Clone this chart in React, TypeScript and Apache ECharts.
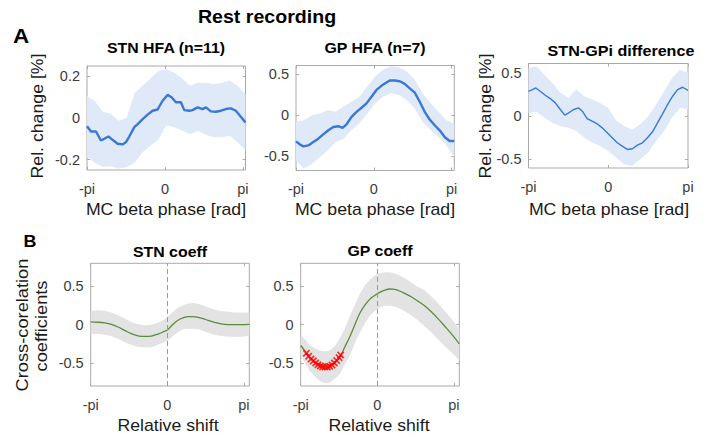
import { useEffect, useRef } from "react";
import * as echarts from "echarts";

const FONT = '"Liberation Sans", Arial, Helvetica, sans-serif';
const STRETCH = 1.12;

// phase axis ticks (in units of pi)
const phaseTicks = [-1, 0, 1];
const phaseTickLabels = ["-pi", "0", "pi"];

// ---------- A: STN HFA (n=11) ----------
const stnPhase = [-1, -0.949, -0.885, -0.821, -0.778, -0.726, -0.671, -0.607, -0.543, -0.5, -0.457, -0.393, -0.35, -0.286, -0.222, -0.158, -0.094, -0.03, 0.034, 0.085, 0.141, 0.205, 0.248, 0.312, 0.355, 0.419, 0.483, 0.526, 0.59, 0.654, 0.718, 0.782, 0.846, 0.91, 0.974, 1.034];
const stnMean = [-0.04, -0.065, -0.065, -0.108, -0.1, -0.089, -0.105, -0.124, -0.127, -0.116, -0.089, -0.044, -0.029, -0.005, 0.016, 0.035, 0.041, 0.083, 0.111, 0.1, 0.076, 0.076, 0.038, 0.035, 0.038, 0.051, 0.043, 0.051, 0.032, 0.03, 0.035, 0.043, 0.046, 0.035, 0.006, -0.021];
const hfaBandPhase = [-1, -0.898, -0.797, -0.695, -0.593, -0.491, -0.39, -0.288, -0.186, -0.085, 0.017, 0.119, 0.221, 0.322, 0.424, 0.526, 0.627, 0.729, 0.831, 0.932, 1.034];
const stnUpper = [0.106, 0.08, 0.03, 0.02, -0.013, 0.0, 0.12, 0.155, 0.19, 0.225, 0.235, 0.217, 0.19, 0.154, 0.17, 0.17, 0.162, 0.17, 0.18, 0.154, 0.114];
const stnLower = [-0.187, -0.215, -0.235, -0.232, -0.243, -0.237, -0.215, -0.165, -0.134, -0.105, -0.035, -0.044, -0.06, -0.078, -0.062, -0.08, -0.092, -0.092, -0.085, -0.116, -0.156];
const stnYTicks = [-0.2, 0, 0.2];

// ---------- A: GP HFA (n=7) ----------
const gpPhase = [-1, -0.949, -0.906, -0.842, -0.778, -0.714, -0.65, -0.585, -0.521, -0.457, -0.402, -0.35, -0.286, -0.222, -0.158, -0.094, -0.03, 0.034, 0.098, 0.162, 0.205, 0.269, 0.333, 0.397, 0.462, 0.526, 0.59, 0.654, 0.718, 0.782, 0.846, 0.91, 0.974, 1.034];
const gpMean = [-0.322, -0.36, -0.384, -0.372, -0.33, -0.289, -0.236, -0.186, -0.145, -0.136, -0.157, -0.112, -0.021, 0.041, 0.091, 0.145, 0.227, 0.31, 0.36, 0.4, 0.426, 0.426, 0.417, 0.384, 0.33, 0.277, 0.165, 0.041, -0.054, -0.124, -0.186, -0.269, -0.318, -0.318];
const gpUpper = [-0.083, -0.062, 0, 0.02, 0.062, 0.041, 0.103, 0.165, 0.227, 0.351, 0.475, 0.558, 0.6, 0.59, 0.537, 0.434, 0.269, 0.145, 0.041, -0.062, -0.103];
const gpLower = [-0.558, -0.66, -0.6, -0.517, -0.434, -0.33, -0.289, -0.186, -0.103, 0.02, 0.145, 0.227, 0.269, 0.248, 0.186, 0.083, -0.083, -0.186, -0.269, -0.372, -0.517];
const halfYTicks = [-0.5, 0, 0.5];

// ---------- A: STN-GPi difference ----------
const diffPhase = [-1, -0.958, -0.908, -0.853, -0.79, -0.727, -0.664, -0.601, -0.546, -0.496, -0.433, -0.37, -0.319, -0.265, -0.202, -0.139, -0.076, -0.013, 0.05, 0.113, 0.176, 0.239, 0.303, 0.366, 0.429, 0.492, 0.555, 0.618, 0.681, 0.744, 0.807, 0.87, 0.933, 1.0];
const diffMean = [0.288, 0.304, 0.327, 0.288, 0.242, 0.204, 0.154, 0.077, 0.012, 0.038, 0.077, 0.096, 0.05, -0.027, -0.058, -0.088, -0.135, -0.192, -0.25, -0.308, -0.346, -0.385, -0.377, -0.335, -0.308, -0.25, -0.181, -0.077, 0.027, 0.135, 0.231, 0.308, 0.335, 0.3];
const diffBandPhase = [-1, -0.9, -0.8, -0.7, -0.6, -0.5, -0.4, -0.3, -0.2, -0.1, 0, 0.1, 0.2, 0.3, 0.4, 0.5, 0.6, 0.7, 0.8, 0.9, 1];
const diffUpper = [0.558, 0.577, 0.48, 0.385, 0.27, 0.212, 0.308, 0.231, 0.192, 0.154, 0.096, -0.05, -0.115, -0.154, -0.096, 0, 0.135, 0.288, 0.442, 0.538, 0.5];
const diffLower = [0.038, 0.05, -0.019, -0.077, -0.115, -0.135, -0.173, -0.25, -0.308, -0.346, -0.404, -0.481, -0.558, -0.577, -0.5, -0.423, -0.288, -0.173, -0.019, 0.096, 0.077];

// ---------- B: STN coeff ----------
const stnShift = [-1, -0.904, -0.817, -0.73, -0.643, -0.557, -0.47, -0.383, -0.296, -0.209, -0.122, -0.057, 0, 0.074, 0.139, 0.204, 0.27, 0.335, 0.4, 0.465, 0.53, 0.617, 0.704, 0.791, 0.878, 0.965, 1.07];
const stnCoeff = [0.035, 0.031, 0.022, 0.004, -0.031, -0.075, -0.118, -0.145, -0.154, -0.149, -0.123, -0.096, -0.07, 0.004, 0.057, 0.088, 0.105, 0.105, 0.096, 0.079, 0.057, 0.031, 0.009, 0, 0, 0, 0.004];
const stnCoeffUpper = [0.18, 0.189, 0.18, 0.158, 0.123, 0.079, 0.035, 0.004, -0.009, 0, 0.026, 0.057, 0.095, 0.167, 0.219, 0.254, 0.276, 0.281, 0.272, 0.254, 0.228, 0.197, 0.175, 0.167, 0.158, 0.158, 0.158];
const stnCoeffLower = [-0.118, -0.123, -0.132, -0.149, -0.184, -0.228, -0.263, -0.289, -0.298, -0.294, -0.263, -0.237, -0.212, -0.149, -0.096, -0.061, -0.053, -0.053, -0.061, -0.079, -0.105, -0.132, -0.149, -0.158, -0.158, -0.158, -0.149];

// ---------- B: GP coeff ----------
const gpShift = [-1, -0.948, -0.883, -0.817, -0.752, -0.687, -0.622, -0.557, -0.491, -0.426, -0.361, -0.296, -0.23, -0.165, -0.1, -0.035, 0.03, 0.096, 0.161, 0.226, 0.291, 0.357, 0.443, 0.53, 0.617, 0.704, 0.791, 0.878, 0.965, 1.07];
const gpCoeff = [-0.272, -0.338, -0.425, -0.491, -0.535, -0.553, -0.544, -0.5, -0.425, -0.294, -0.162, -0.009, 0.145, 0.25, 0.33, 0.38, 0.42, 0.45, 0.465, 0.46, 0.439, 0.408, 0.364, 0.307, 0.246, 0.167, 0.079, -0.018, -0.118, -0.25];
const gpCoeffUpper = [-0.132, -0.184, -0.263, -0.307, -0.338, -0.351, -0.338, -0.281, -0.184, -0.053, 0.101, 0.254, 0.395, 0.509, 0.583, 0.64, 0.671, 0.684, 0.684, 0.671, 0.64, 0.605, 0.553, 0.491, 0.45, 0.37, 0.28, 0.18, 0.08, -0.06];
const gpCoeffLower = [-0.404, -0.491, -0.6, -0.675, -0.732, -0.763, -0.754, -0.71, -0.645, -0.526, -0.404, -0.25, -0.105, 0.013, 0.114, 0.175, 0.219, 0.246, 0.246, 0.232, 0.21, 0.175, 0.123, 0.057, -0.02, -0.1, -0.19, -0.28, -0.36, -0.46];
const gpSigShift = [-0.926, -0.896, -0.865, -0.835, -0.804, -0.774, -0.743, -0.713, -0.683, -0.652, -0.622, -0.591, -0.561, -0.53, -0.5, -0.478];
const gpSigCoeff = [-0.373, -0.412, -0.447, -0.474, -0.5, -0.522, -0.539, -0.548, -0.553, -0.553, -0.544, -0.526, -0.5, -0.469, -0.43, -0.395];

const pairs = (xs: number[], ys: number[]) => xs.map((x, i) => [x, ys[i]]);

type Panel = {
  grid: { left: number; top: number; width: number; height: number };
  xMax: number;
  yMin: number;
  yMax: number;
  yTicks: number[];
  phase: number[];
  mean: number[];
  bandPhase: number[];
  upper: number[];
  lower: number[];
  lineColor: string;
  lineWidth: number;
  bandColor: string;
  smooth: number | boolean;
  zeroLine?: boolean;
};

const BLUE = "#3a78d6";
const BLUE_BAND = "#dfe9f8";
const GREEN = "#5d8a3c";
const GRAY_BAND = "#e3e3e3";

const panels: Panel[] = [
  { grid: { left: 87, top: 66, width: 158.5, height: 104 }, xMax: 1.034, yMin: -0.25, yMax: 0.25, yTicks: stnYTicks,
    phase: stnPhase, mean: stnMean, bandPhase: hfaBandPhase, upper: stnUpper, lower: stnLower,
    lineColor: BLUE, lineWidth: 2.4, bandColor: BLUE_BAND, smooth: false },
  { grid: { left: 296, top: 65.5, width: 158.3, height: 105 }, xMax: 1.034, yMin: -0.68, yMax: 0.61, yTicks: halfYTicks,
    phase: gpPhase, mean: gpMean, bandPhase: hfaBandPhase, upper: gpUpper, lower: gpLower,
    lineColor: BLUE, lineWidth: 2.4, bandColor: BLUE_BAND, smooth: false },
  { grid: { left: 528.5, top: 63.5, width: 159.5, height: 104.5 }, xMax: 1, yMin: -0.6, yMax: 0.61, yTicks: halfYTicks,
    phase: diffPhase, mean: diffMean, bandPhase: diffBandPhase, upper: diffUpper, lower: diffLower,
    lineColor: BLUE, lineWidth: 1.4, bandColor: BLUE_BAND, smooth: false },
  { grid: { left: 90.7, top: 263.3, width: 158.6, height: 122.7 }, xMax: 1.07, yMin: -0.8, yMax: 0.8, yTicks: halfYTicks,
    phase: stnShift, mean: stnCoeff, bandPhase: stnShift, upper: stnCoeffUpper, lower: stnCoeffLower,
    lineColor: GREEN, lineWidth: 1.3, bandColor: GRAY_BAND, smooth: 0.35, zeroLine: true },
  { grid: { left: 300.7, top: 263.3, width: 158.6, height: 122.7 }, xMax: 1.07, yMin: -0.8, yMax: 0.8, yTicks: halfYTicks,
    phase: gpShift, mean: gpCoeff, bandPhase: gpShift, upper: gpCoeffUpper, lower: gpCoeffLower,
    lineColor: GREEN, lineWidth: 1.3, bandColor: GRAY_BAND, smooth: 0.35, zeroLine: true },
];

const FRAME = "#a9a9a9";
const TICK_TEXT = "#3c3c3c";

const X_MARK = "path://M0,1.6L1.6,0L5,3.4L8.4,0L10,1.6L6.6,5L10,8.4L8.4,10L5,6.6L1.6,10L0,8.4L3.4,5Z";

function label(text: string, x: number, y: number, size: number, bold: boolean, rotate = false) {
  return {
    type: "text",
    x,
    y,
    scaleX: STRETCH,
    rotation: rotate ? Math.PI / 2 : 0,
    silent: true,
    style: {
      text,
      fontSize: size,
      fontWeight: bold ? "bold" : "normal",
      fontFamily: FONT,
      fill: bold ? "#000" : "#1a1a1a",
      align: "center",
      verticalAlign: "middle",
    },
  };
}

function buildOption() {
  const grid: any[] = [];
  const xAxis: any[] = [];
  const yAxis: any[] = [];
  const series: any[] = [];

  panels.forEach((p, i) => {
    grid.push({ ...p.grid, show: true, borderColor: FRAME, borderWidth: 1, backgroundColor: "#fff", containLabel: false });
    const tick = { show: true, inside: true, length: 3, lineStyle: { color: FRAME, width: 1 }, customValues: phaseTicks };
    const noLine = { show: false, onZero: false };
    xAxis.push({
      type: "value", gridIndex: i, position: "bottom", min: -1, max: p.xMax,
      axisLine: noLine, splitLine: { show: false },
      axisTick: tick,
      axisLabel: {
        customValues: phaseTicks, margin: 11, fontSize: 14.5, fontFamily: FONT, color: TICK_TEXT,
        formatter: (v: number) => phaseTickLabels[phaseTicks.indexOf(v)] ?? "",
      },
    });
    xAxis.push({
      type: "value", gridIndex: i, position: "top", min: -1, max: p.xMax,
      axisLine: noLine, splitLine: { show: false },
      axisTick: tick, axisLabel: { show: false },
    });
    const ytick = { show: true, inside: true, length: 3, lineStyle: { color: FRAME, width: 1 }, customValues: p.yTicks };
    yAxis.push({
      type: "value", gridIndex: i, position: "left", min: p.yMin, max: p.yMax,
      axisLine: noLine, splitLine: { show: false },
      axisTick: ytick,
      axisLabel: { customValues: p.yTicks, margin: 7, fontSize: 14.5, fontFamily: FONT, color: TICK_TEXT, formatter: (v: number) => String(v) },
    });
    yAxis.push({
      type: "value", gridIndex: i, position: "right", min: p.yMin, max: p.yMax,
      axisLine: noLine, splitLine: { show: false },
      axisTick: ytick, axisLabel: { show: false },
    });

    const xi = 2 * i;
    const yi = 2 * i;
    series.push({
      type: "custom", xAxisIndex: xi, yAxisIndex: yi, clip: true, silent: true, z: 1,
      data: [[p.bandPhase[0], p.upper[0]]],
      renderItem: (_params: any, api: any) => {
        const pts: number[][] = [];
        p.bandPhase.forEach((x, k) => pts.push(api.coord([x, p.upper[k]])));
        for (let k = p.bandPhase.length - 1; k >= 0; k--) pts.push(api.coord([p.bandPhase[k], p.lower[k]]));
        return { type: "polygon", shape: { points: pts }, style: { fill: p.bandColor, stroke: "none" } };
      },
    });
    series.push({
      type: "line", xAxisIndex: xi, yAxisIndex: yi, data: pairs(p.phase, p.mean), symbol: "none",
      smooth: p.smooth,
      lineStyle: { color: p.lineColor, width: p.lineWidth }, silent: true, z: 3,
      markLine: p.zeroLine
        ? {
            silent: true, symbol: ["none", "none"], label: { show: false },
            lineStyle: { color: "#9a9a9a", width: 1, type: [5, 3] },
            data: [{ xAxis: 0 }],
          }
        : undefined,
    });
  });

  series.push({
    type: "scatter", xAxisIndex: 8, yAxisIndex: 8, data: pairs(gpSigShift, gpSigCoeff),
    symbol: X_MARK, symbolSize: 7.5, itemStyle: { color: "#ff0000" }, silent: true, z: 4,
  });

  const graphic = [
    label("Rest recording", 267, 17, 17.5, true),
    label("A", 21, 36, 20, true),
    label("B", 30, 242, 16, true),
    label("STN HFA (n=11)", 166, 48, 14.2, true),
    label("GP HFA (n=7)", 375, 48, 14.2, true),
    label("STN-GPi difference", 621, 51, 14.4, true),
    label("STN coeff", 170, 252, 14.2, true),
    label("GP coeff", 380, 251, 14.2, true),
    label("MC beta phase [rad]", 166, 210, 15.8, false),
    label("MC beta phase [rad]", 375, 210, 15.8, false),
    label("MC beta phase [rad]", 609, 210, 15.8, false),
    label("Rel. change [%]", 38, 116, 15.8, false, true),
    label("Rel. change [%]", 486, 116, 15.8, false, true),
    label("Cross-corelation", 22, 325, 16.3, false, true),
    label("coefficients", 41, 326, 16.3, false, true),
    label("Relative shift", 168, 426, 15.8, false),
    label("Relative shift", 379, 426, 15.8, false),
  ];

  return { animation: false, backgroundColor: "#fff", grid, xAxis, yAxis, series, graphic };
}

export default function App() {
  const ref = useRef<HTMLDivElement>(null);
  useEffect(() => {
    if (!ref.current) return;
    const chart = echarts.init(ref.current, undefined, { renderer: "svg" });
    chart.setOption(buildOption() as any);
    return () => chart.dispose();
  }, []);
  return <div ref={ref} style={{ position: "absolute", left: 0, top: 0, width: 704, height: 440 }} />;
}
